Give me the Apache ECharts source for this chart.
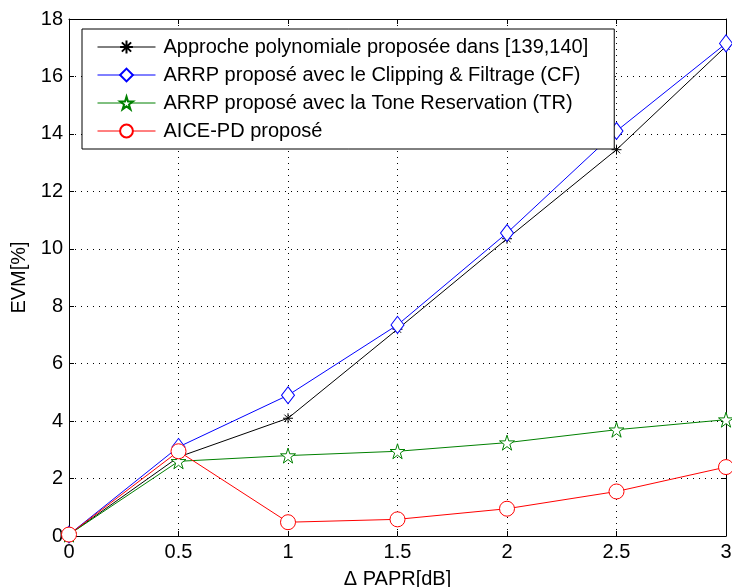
<!DOCTYPE html>
<html><head><meta charset="utf-8">
<script src="https://cdn.jsdelivr.net/npm/echarts@6/dist/echarts.min.js"></script>
<style>html,body{margin:0;padding:0;background:#fff}#c{width:732px;height:587px}</style>
</head><body><div id="c"></div>
<script>
const xValues = [0, 0.5, 1, 1.5, 2, 2.5, 3];
const polyValues = [0.05, 2.75, 4.1, 7.2, 10.35, 13.45, 17.05];
const cfValues = [0.05, 3.1, 4.9, 7.35, 10.55, 14.1, 17.15];
const trValues = [0.05, 2.6, 2.8, 2.95, 3.25, 3.7, 4.05];
const aiceValues = [0.05, 2.95, 0.48, 0.58, 0.95, 1.55, 2.4];
const seriesNames = [
  'Approche polynomiale proposée dans [139,140]',
  'ARRP proposé avec le Clipping & Filtrage (CF)',
  'ARRP proposé avec la Tone Reservation (TR)',
  'AICE-PD proposé'
];
const xTitle = '\u0394 PAPR[dB]';
const yTitle = 'EVM[%]';

const asterisk = 'path://M0,-5L0,5M-5,0L5,0M-3.6,-3.6L3.6,3.6M-3.6,3.6L3.6,-3.6';
const star = 'path://M0,-10L2.23,-3.07L9.51,-3.09L3.61,1.17L5.88,8.09L0,3.8L-5.88,8.09L-3.61,1.17L-9.51,-3.09L-2.23,-3.07Z';
const font = 'Liberation Sans, Arial, sans-serif';

function pairs(vals){ return xValues.map((x,i)=>[x, vals[i]]); }
function mk(name, vals, color, symbol, size){
  return {
    name, type:'line', data: pairs(vals), symbol, symbolSize: size,
    showAllSymbol: true,
    lineStyle:{color, width:1},
    itemStyle:{color:'#fff', borderColor: color, borderWidth:1},
    emphasis:{disabled:true}, animation:false, z: 3
  };
}
const chart = echarts.init(document.getElementById('c'));
const axisCommon = {
  min:0, axisLine:{show:true, onZero:false, lineStyle:{color:'#000', width:1}},
  axisTick:{show:true, inside:true, length:5, lineStyle:{color:'#000'}},
};
chart.setOption({
  backgroundColor:'#fff',
  animation:false,
  grid:{left:69, right:6, top:19, bottom:51, containLabel:false, outerBoundsMode:'none'},
  legend:{
    orient:'vertical', left:82, top:29,
    backgroundColor:'#fff', borderColor:'#000', borderWidth:1,
    padding:[8, 26, 8, 15], itemGap:8, itemWidth:58, itemHeight:16,
    lineStyle:{width:1, inactiveWidth:1},
    textStyle:{fontFamily:font, fontSize:20, color:'#000', padding:[0,0,0,3]},
    data: seriesNames
  },
  xAxis:[
    Object.assign({}, axisCommon, {type:'value', max:3, interval:0.5,
      name:xTitle, nameLocation:'middle', nameGap:33,
      nameTextStyle:{fontFamily:font, fontSize:20, color:'#000'},
      axisLabel:{fontFamily:font, fontSize:20, color:'#000', margin:6},
      splitLine:{show:true, lineStyle:{color:'#000', type:[1,5], width:1}}}),
    Object.assign({}, axisCommon, {type:'value', max:3, interval:0.5, position:'top',
      axisLabel:{show:false}, splitLine:{show:false}})
  ],
  yAxis:[
    Object.assign({}, axisCommon, {type:'value', max:18, interval:2,
      name:yTitle, nameLocation:'middle', nameGap:30,
      nameTextStyle:{fontFamily:font, fontSize:20, color:'#000'},
      axisLabel:{fontFamily:font, fontSize:20, color:'#000', margin:6},
      splitLine:{show:true, lineStyle:{color:'#000', type:[1,5], width:1}}}),
    Object.assign({}, axisCommon, {type:'value', max:18, interval:2, position:'right',
      axisLabel:{show:false}, splitLine:{show:false}})
  ],
  series:[
    mk(seriesNames[0], polyValues, '#000', asterisk, 10),
    mk(seriesNames[1], cfValues, '#0000ff', 'diamond', [13,17]),
    mk(seriesNames[2], trValues, '#008000', star, 15),
    mk(seriesNames[3], aiceValues, '#ff0000', 'circle', 15)
  ]
});
</script></body></html>
